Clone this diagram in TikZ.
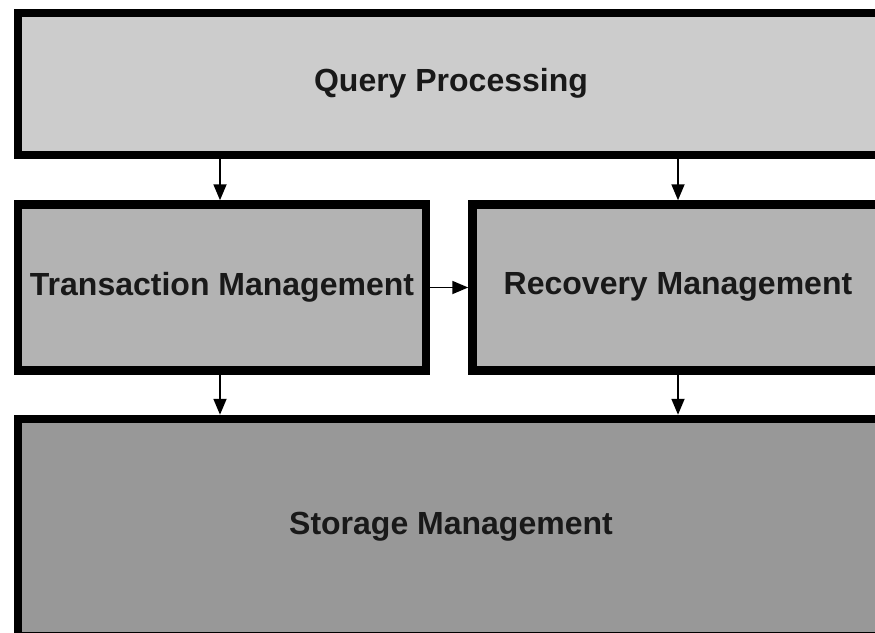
\documentclass[tikz,border=0pt]{standalone}
\usepackage{fontspec}
\setmainfont{Liberation Sans}
\usetikzlibrary{arrows.meta}

\definecolor{layerA}{HTML}{CCCCCC}
\definecolor{layerB}{HTML}{B3B3B3}
\definecolor{layerC}{HTML}{989898}

\tikzset{
  layer/.style={draw=black, line width=8.5pt, rectangle, inner sep=0pt},
  caption/.style={font=\fontsize{32}{38}\selectfont\bfseries, text=black!90},
  flow/.style={line width=1.8pt, -{Triangle[length=16pt,width=13pt]}}
}

\begin{document}
\begin{tikzpicture}[x=1pt, y=-1pt]
  \useasboundingbox (0,0) rectangle (875,632);
  \clip (0,0) rectangle (875,632);

  % three-layer architecture
  \node[layer, fill=layerA, minimum width=866pt, minimum height=142pt] (qp) at (451,84) {};
  \node[caption] (qpt) at (451,83) {Query Processing};

  \node[layer, fill=layerB, minimum width=408pt, minimum height=166pt] (tm) at (222,287.5) {};
  \node[caption] (tmt) at (222,287) {Transaction Management};

  \node[layer, fill=layerB, minimum width=411.5pt, minimum height=166pt] (rm) at (678.25,287.5) {};
  \node[caption] (rmt) at (678,287) {Recovery Management};

  \node[layer, fill=layerC, minimum width=866pt, minimum height=217pt] (sm) at (451,527.5) {};
  \node[caption] (smt) at (451,527) {Storage Management};

  % dependencies between layers
  \coordinate (tx) at (220,0);
  \coordinate (rx) at (678,0);
  \draw[flow] (qp.south -| tx) -- (tm.north -| tx);
  \draw[flow] (qp.south -| rx) -- (rm.north -| rx);
  \draw[flow] (tm.east) -- (rm.west);
  \draw[flow] (tm.south -| tx) -- (sm.north -| tx);
  \draw[flow] (rm.south -| rx) -- (sm.north -| rx);
\end{tikzpicture}
\end{document}
